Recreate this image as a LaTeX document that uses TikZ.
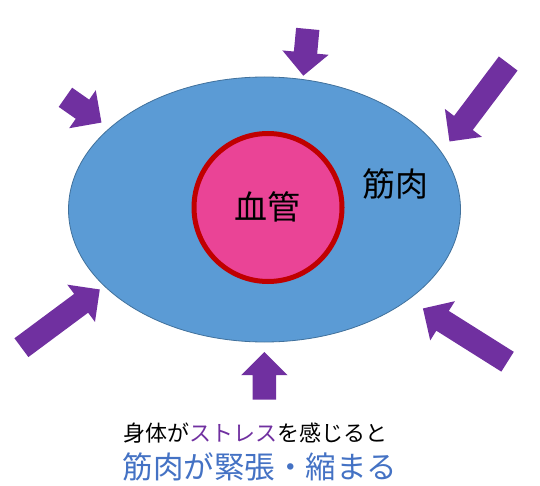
\documentclass[tikz,border=0pt]{standalone}
\usepackage{fontspec}
\newfontfamily\jpfont{Noto Sans CJK JP}
\usetikzlibrary{shapes.arrows}

\definecolor{muscleblue}{HTML}{5B9BD5}
\definecolor{muscleedge}{HTML}{41719C}
\definecolor{vesselpink}{HTML}{EA4496}
\definecolor{vesselred}{HTML}{C00000}
\definecolor{pressviolet}{HTML}{7030A0}
\definecolor{titleblue}{HTML}{4472C4}

\tikzset{
  press/.style={single arrow, draw=none, fill=pressviolet, inner xsep=0pt,
    inner ysep=11.5pt, minimum width=46pt, single arrow head extend=11.5pt,
    single arrow head indent=0pt, anchor=tip},
  caption/.style={font=\jpfont, inner sep=0pt}
}

\begin{document}
\begin{tikzpicture}[x=1pt, y=-1pt]
    \useasboundingbox (0,0) rectangle (540,486);

    % muscle and vessel
    \draw[muscleedge, fill=muscleblue, line width=0.8pt] (264.5,209.5) ellipse (196 and 132.5);
    \draw[vesselred, fill=vesselpink, line width=5pt] (268,207.5) circle (74);
    \node[caption, font=\jpfont\fontsize{33}{33}\selectfont] (vessel) at (267,207) {血管};
    \node[caption, font=\jpfont\fontsize{33}{33}\selectfont] (muscle) at (395,184) {筋肉};

    % pressure from outside
    \foreach \n/\x/\y/\ang/\len in {top/303.3/76/264.6/47, tl/101.7/122.7/-35/44,
        tr/449.3/141.7/233/97.6, bl/100/289.3/36.6/97.6, bot/264.3/351.7/90/47.6,
        br/422.7/308.3/147.8/100} {
      \node[press, minimum height=\len pt, rotate=\ang] (press-\n) at (\x,\y) {};
    }

    \node[caption, font=\jpfont\fontsize{22}{22}\selectfont] (cause) at (255,433)
      {身体が{\color{pressviolet}ストレス}を感じると};
    \node[caption, font=\jpfont\fontsize{30.5}{30.5}\selectfont, text=titleblue] (effect) at (260,467)
      {筋肉が緊張・縮まる};
  \end{tikzpicture}
\end{document}
